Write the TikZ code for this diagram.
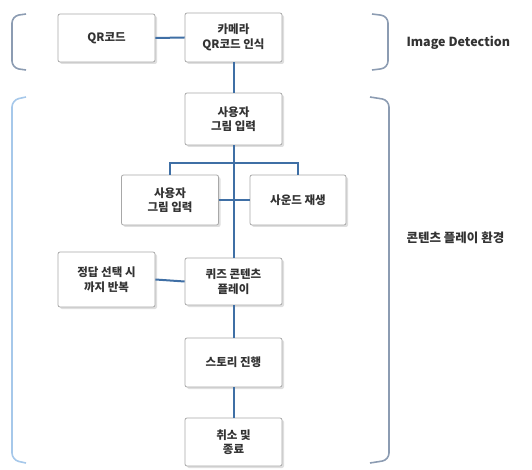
\documentclass[tikz,border=0pt]{standalone}
\usepackage{fontspec}
\newfontfamily\kr{Noto Sans CJK KR}
\usetikzlibrary{shadows}
\definecolor{linkc}{HTML}{3F6FA5}
\definecolor{brk}{HTML}{8C9CB2}
\definecolor{brkl}{HTML}{A6C8EA}
\definecolor{boxb}{HTML}{A8A8A8}
\tikzset{
  x=1pt,y=-1pt,
  box/.style={draw=boxb,line width=0.8pt,fill=white,rounded corners=2pt,
    minimum width=97pt,align=center,font=\kr\bfseries\fontsize{11.5}{14.5}\selectfont,
    text=black!80,drop shadow={shadow xshift=2pt,shadow yshift=-2pt,opacity=0.25}},
  link/.style={draw=linkc,line width=2pt},
  brace/.style={draw=brk,line width=1.6pt,rounded corners=7pt},
  lab/.style={font=\kr\bfseries\fontsize{12.5}{15}\selectfont,text=black!80,anchor=west}
}
\begin{document}
\begin{tikzpicture}
\useasboundingbox (0,0) rectangle (532,470);
% brackets
\draw[brace] (26,14) -- (12,16) -- (12,68) -- (26,70);
\draw[brace] (372,14) -- (388,16) -- (388,68) -- (372,70);
\draw[brace,draw=brkl] (26,97) -- (12,100) -- (12,460) -- (26,463);
\draw[brace] (370,97) -- (389,100) -- (389,460) -- (370,463);
% nodes
\node[box,minimum height=48pt] (qr) at (106.5,38) {QR코드};
\node[box,minimum height=49pt] (cam) at (233.5,37.5) {카메라\\QR코드 인식};
\node[box,minimum height=52pt] (user1) at (233.5,119) {사용자\\그림 입력};
\node[box,minimum height=50pt] (user2) at (170,200) {사용자\\그림 입력};
\node[box,minimum height=50pt,minimum width=96pt] (sound) at (298,200) {사운드 재생};
\node[box,minimum height=55pt] (rep) at (106.5,279.5) {정답 선택 시\\까지 반복};
\node[box,minimum height=47pt] (quiz) at (233.5,281.5) {퀴즈 콘텐츠\\플레이};
\node[box,minimum height=49pt] (story) at (233.5,362.5) {스토리 진행};
\node[box,minimum height=48pt] (fin) at (233.5,442) {취소 및\\종료};
\coordinate (split) at (233.5,163);
% connectors
\draw[link] (qr.east) -- (cam.west);
\draw[link] (cam.south) -- (user1.north);
\draw[link] (user1.south) -- (split);
\draw[link] (split) -| (user2.north);
\draw[link] (split) -| (sound.north);
\draw[link] (user2.east) -- (sound.west);
\draw[link] (split) -- (quiz.north);
\draw[link] (rep.east) -- (quiz.west);
\draw[link] (quiz.south) -- (story.north);
\draw[link] (story.south) -- (fin.north);
% labels
\node[lab] (t1) at (403,43) {Image Detection};
\node[lab] (t2) at (403,238) {콘텐츠 플레이 환경};
\end{tikzpicture}
\end{document}
